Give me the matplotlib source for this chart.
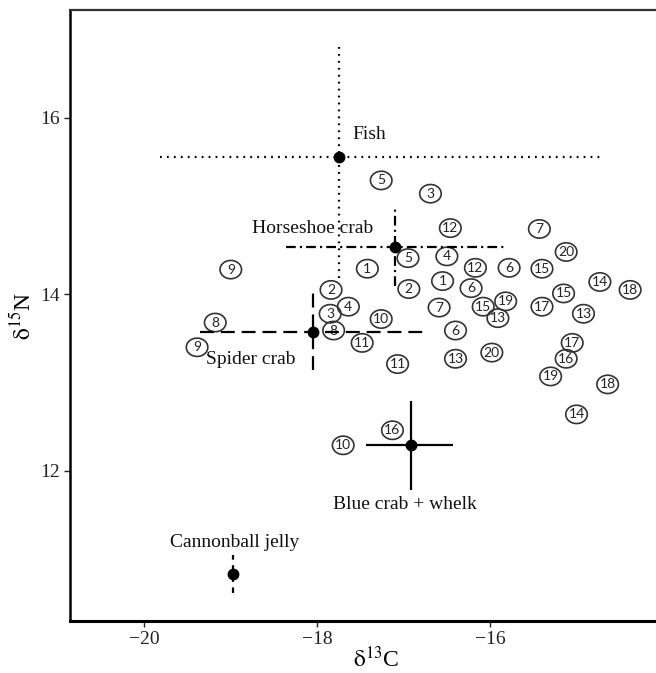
import numpy as np
import matplotlib
matplotlib.use("Agg")
import matplotlib.pyplot as plt
from matplotlib.path import Path

plt.rcParams["font.family"] = ["Liberation Serif", "DejaVu Serif"]
plt.rcParams["mathtext.fontset"] = "stix"
plt.rcParams["lines.scale_dashes"] = False

# group means with error bars (d13C, d15N)
groups = ["Fish", "Horseshoe crab", "Spider crab", "Blue crab + whelk", "Cannonball jelly"]
grp_x = [-17.75, -17.10, -18.05, -16.92, -18.97]
grp_y = [15.56, 14.54, 13.57, 12.29, 10.83]
grp_xlo = [2.07, 1.26, 1.31, 0.52, 0.0]
grp_xhi = [3.04, 1.29, 1.32, 0.49, 0.0]
grp_ylo = [1.37, 0.45, 0.43, 0.51, 0.21]
grp_yhi = [1.30, 0.46, 0.48, 0.50, 0.22]
grp_styles = [(0, (1.3, 3.7)), (0, (7, 3, 1.5, 3)), (0, (10, 5)), "-", (0, (4, 4))]

# label positions for the groups
lab_x = [-17.59, -18.76, -19.29, -17.82, -19.70]
lab_y = [15.81, 14.75, 13.26, 11.62, 11.19]

# circled site numbers
site_num = [1, 1, 2, 2, 3, 3, 4, 4, 5, 5, 6, 6, 6, 7, 7, 8, 8, 9, 9, 10, 10,
            11, 11, 12, 12, 13, 13, 13, 14, 14, 15, 15, 15, 16, 16, 17, 17,
            18, 18, 19, 19, 20, 20]
site_x = [-17.42, -16.55, -17.84, -16.94, -17.85, -16.69, -17.64, -16.50,
          -17.26, -16.95, -15.78, -16.22, -16.40, -15.43, -16.59, -19.18,
          -17.81, -19.00, -19.39, -17.26, -17.70, -17.48, -17.07, -16.46,
          -16.17, -15.91, -14.92, -16.40, -14.73, -15.00, -15.40, -15.15,
          -16.08, -15.12, -17.13, -15.40, -15.05, -14.38, -14.64, -15.82,
          -15.30, -15.12, -15.98]
site_y = [14.29, 14.15, 14.05, 14.06, 13.78, 15.14, 13.86, 14.43, 15.29,
          14.41, 14.30, 14.07, 13.59, 14.74, 13.85, 13.68, 13.59, 14.28,
          13.40, 13.72, 12.29, 13.45, 13.21, 14.75, 14.30, 13.73, 13.78,
          13.27, 14.14, 12.64, 14.29, 14.01, 13.86, 13.27, 12.46, 13.86,
          13.45, 14.05, 12.98, 13.92, 13.07, 14.48, 13.34]

fig = plt.figure(figsize=(6.56, 6.73), dpi=100)
ax = fig.add_axes([70 / 656, 52 / 673, 612 / 656, 611 / 673])

# ellipse marker for the circled numbers
t = np.linspace(0, 2 * np.pi, 60)
ell = Path(np.c_[np.cos(t), 0.85 * np.sin(t)], closed=True)
ax.scatter(site_x, site_y, marker=ell, s=15.5 ** 2, facecolors="none",
           edgecolors="#333333", linewidths=1.2, zorder=3)
for n, x, y in zip(site_num, site_x, site_y):
    ax.text(x, y, str(n), ha="center", va="center", fontsize=10,
            family="Lato", color="#222222", zorder=4)

for i in range(len(groups)):
    eb = ax.errorbar(grp_x[i], grp_y[i],
                     xerr=[[grp_xlo[i]], [grp_xhi[i]]],
                     yerr=[[grp_ylo[i]], [grp_yhi[i]]],
                     fmt="o", color="black", ms=7.5, capsize=0,
                     elinewidth=1.6, zorder=5)
    for lc in eb.lines[2]:
        lc.set_linestyle(grp_styles[i])
    ax.text(lab_x[i], lab_y[i], groups[i], ha="left", va="center",
            fontsize=14, color="#111111", zorder=6)

ax.set_xlim(-20.86, -13.78)
ax.set_ylim(10.30, 17.22)
ax.set_xticks([-20, -18, -16])
ax.set_yticks([12, 14, 16])
ax.set_xticklabels(["\u221220", "\u221218", "\u221216"])
ax.tick_params(labelsize=14, length=4, width=1, colors="#222222")
ax.tick_params(top=False, right=False)

ax.spines["left"].set_linewidth(1.8)
ax.spines["bottom"].set_linewidth(2.2)
ax.spines["top"].set_linewidth(1.6)
ax.spines["top"].set_color("#333333")

ax.set_xlabel(r"$\mathrm{\delta}^{13}$C", fontsize=17, labelpad=-1)
ax.set_ylabel(r"$\mathrm{\delta}^{15}$N", fontsize=17, labelpad=3)

fig.savefig("out.png", dpi=100)
